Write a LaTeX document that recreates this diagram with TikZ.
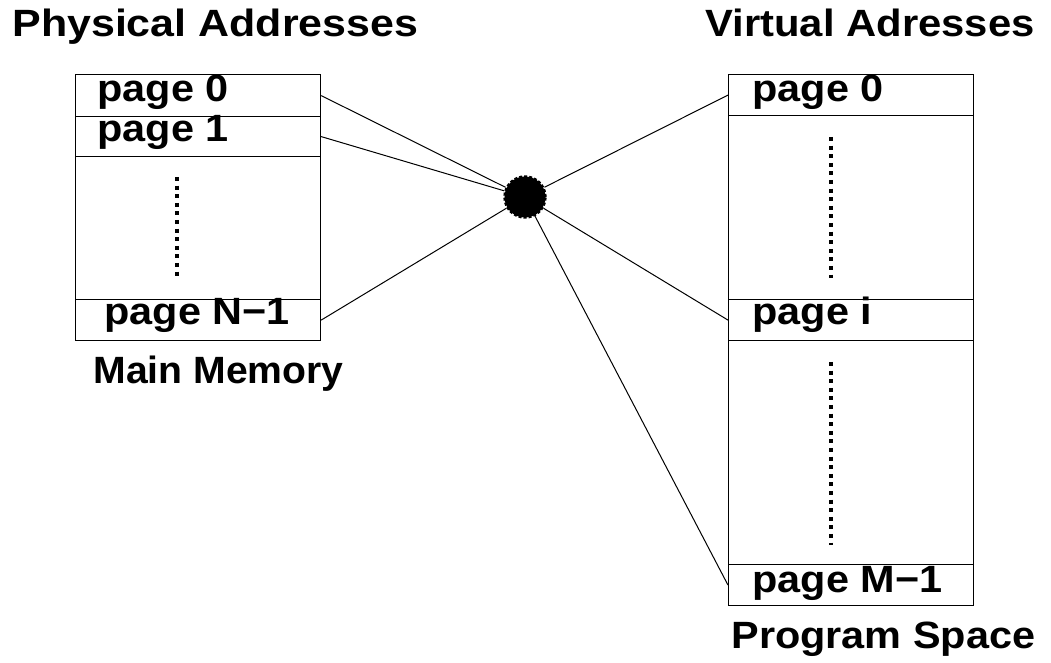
\documentclass[tikz,border=0pt]{standalone}
\usepackage{fontspec}
\setmainfont{Liberation Sans}
\usepackage{graphicx}

\newcommand{\widetxt}[2][1.09]{\scalebox{#1}[1]{#2}}

\tikzset{
	row/.style={draw, rectangle, line width=0.6pt, inner sep=0pt, minimum width=122.5pt, anchor=north west},
	lbl/.style={inner sep=0pt, anchor=base west, font=\fontsize{19}{21}\selectfont\bfseries},
	link/.style={line width=0.5pt},
	vdots/.style={line width=2pt, dash pattern=on 2pt off 2.3pt},
	hub/.style={circle, fill=black, draw=black, line width=1.2pt, dash pattern=on 1.5pt off 1pt, minimum size=20.5pt, inner sep=0pt}
}

\begin{document}
\begin{tikzpicture}[x=0.5pt, y=-0.5pt]
	\useasboundingbox (0,0) rectangle (1051,663);
	% main memory
	\node[row, minimum height=21pt] (L0) at (75,74) {};
	\node[row, minimum height=20pt] (L1) at (75,116) {};
	\node[row, minimum height=71.5pt] (Ldots) at (75,156) {};
	\node[row, minimum height=20.5pt] (LN) at (75,299) {};
	\node[lbl] (physical) at (12,37) {\widetxt[1.13]{Physical Addresses}};
	\node[lbl] (mainmem) at (93,384) {\widetxt[1.03]{Main Memory}};
	\node[lbl] (lp0) at (97,102) {\widetxt{page 0}};
	\node[lbl] (lp1) at (97,142) {\widetxt{page 1}};
	\node[lbl] (lpN) at (104,325) {\widetxt{page N−1}};
	\draw[vdots] (177,177) -- (177,276);
	% program space
	\node[row, minimum height=20.5pt] (R0) at (728,74) {};
	\node[row, minimum height=92pt] (Rd1) at (728,115) {};
	\node[row, minimum height=20.5pt] (Ri) at (728,299) {};
	\node[row, minimum height=112pt] (Rd2) at (728,340) {};
	\node[row, minimum height=20.5pt] (RM) at (728,564) {};
	\node[lbl] (virtual) at (705,37) {\widetxt[1.1]{Virtual Adresses}};
	\node[lbl] (progspace) at (731,648) {\widetxt{Program Space}};
	\node[lbl] (rp0) at (752,102) {\widetxt{page 0}};
	\node[lbl] (rpi) at (752,325) {\widetxt{page i}};
	\node[lbl] (rpM) at (752,592) {\widetxt{page M−1}};
	\draw[vdots] (831,137) -- (831,278);
	\draw[vdots] (831,362) -- (831,545);
	% mapping
	\node[hub] (hub) at (525,197) {};
	\draw[link] (L0.east) -- (hub);
	\draw[link] (L1.east) -- (hub);
	\draw[link] (LN.east) -- (hub);
	\draw[link] (hub) -- (R0.west);
	\draw[link] (hub) -- (Ri.west);
	\draw[link] (hub) -- (RM.west);
\end{tikzpicture}
\end{document}
